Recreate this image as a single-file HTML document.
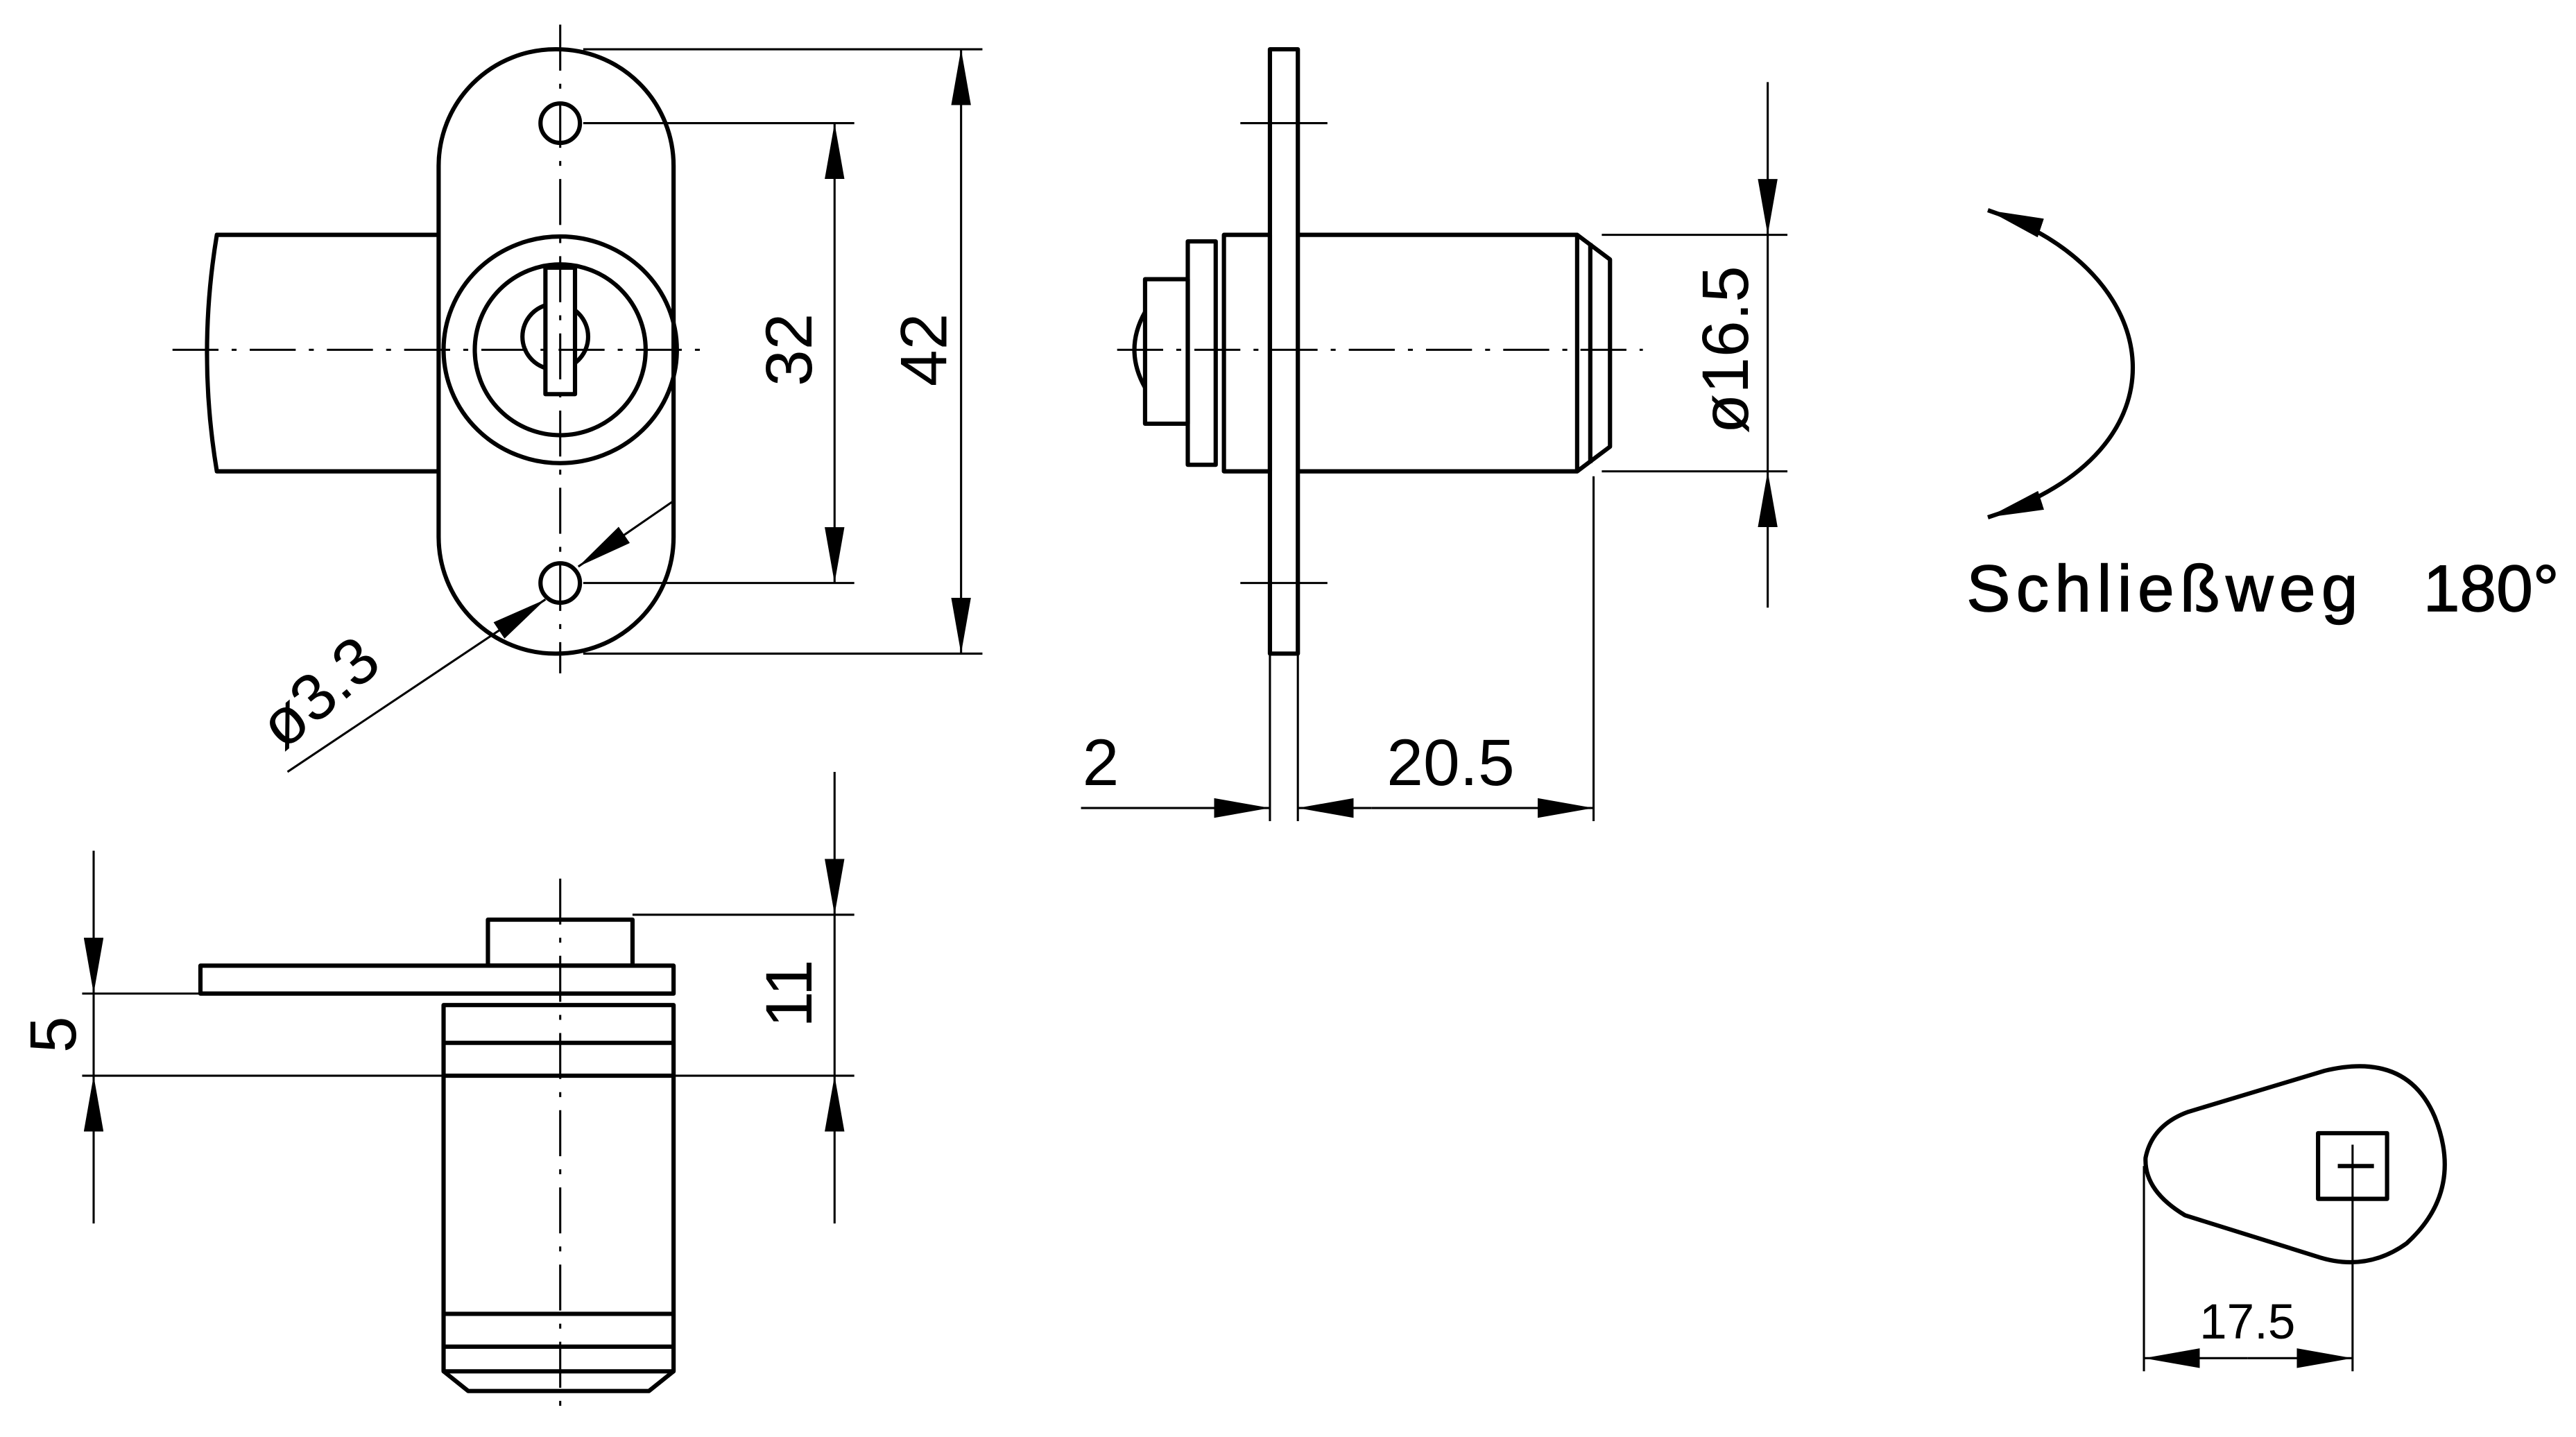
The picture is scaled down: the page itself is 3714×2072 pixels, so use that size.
<!DOCTYPE html>
<html><head><meta charset="utf-8"><style>
html,body{margin:0;padding:0;background:#fff;}
svg{display:block;}
text{font-family:"Liberation Sans","DejaVu Sans",sans-serif;fill:#000;}
</style></head><body>
<svg width="3714" height="2072" viewBox="0 0 1568 875" preserveAspectRatio="none" xmlns="http://www.w3.org/2000/svg">
<defs>
<marker id="a" viewBox="0 0 34 12" refX="34" refY="6" markerWidth="34" markerHeight="12" markerUnits="userSpaceOnUse" orient="auto-start-reverse"><path d="M0,0 L34,6 L0,12 Z" fill="#000"/></marker>
</defs>
<g fill="none" stroke="#000" stroke-width="2.6" stroke-linejoin="round">
<rect x="267" y="30" width="143" height="368" rx="71" ry="71"/>
<circle cx="341" cy="75" r="12"/>
<circle cx="341" cy="355" r="12"/>
<path d="M267,143 L132,143 Q120,215 132,287 L267,287"/>
<ellipse cx="341" cy="213" rx="71" ry="69"/>
<circle cx="341" cy="213" r="52"/>
<circle cx="338" cy="205" r="20"/>
<rect x="332" y="163" width="18" height="77" fill="#fff"/>
</g>
<g fill="none" stroke="#000" stroke-width="1.3">
<path d="M105,213 H430" stroke-dasharray="28,8,3,8"/>
<path d="M341,15 V410" stroke-dasharray="28,8,3,8"/>
<path d="M355,30 H598 M355,75 H520 M355,355 H520 M355,398 H598"/>
<path d="M508,75 V355" marker-start="url(#a)" marker-end="url(#a)" />
<path d="M585,30 V398" marker-start="url(#a)" marker-end="url(#a)" />
<path d="M175,470 L332,365" marker-end="url(#a)"/>
<path d="M410,305 L352,345" marker-end="url(#a)"/>
</g>
<text x="203" y="432" font-size="40" text-anchor="middle" transform="rotate(-40 203 432)">ø3.3</text>
<text x="480" y="213" font-size="40" text-anchor="middle" transform="rotate(-90 480 213)" dy="14">32</text>
<text x="562" y="213" font-size="40" text-anchor="middle" transform="rotate(-90 562 213)" dy="14">42</text>

<g fill="none" stroke="#000" stroke-width="2.6" stroke-linejoin="round">
<rect x="773" y="30" width="17" height="368"/>
<path d="M790,143 H960 L980,158 V272 L960,287 H790"/>
<path d="M960,143 V287 M968,148 V282"/>
<rect x="745" y="143" width="28" height="144"/>
<rect x="723" y="147" width="17" height="136"/>
<rect x="697" y="170" width="26" height="88"/>
<path d="M697,190 Q684,213 697,236"/>
</g>
<g fill="none" stroke="#000" stroke-width="1.3">
<path d="M680,213 H1000" stroke-dasharray="28,8,3,8"/>
<path d="M755,75 H808 M755,355 H808"/>
<path d="M773,398 V500 M790,398 V500 M970,290 V500"/>
<path d="M658,492 H773" marker-end="url(#a)"/>
<path d="M835,492 H790" marker-end="url(#a)"/>
<path d="M835,492 H970" marker-end="url(#a)"/>
<path d="M975,143 H1088 M975,287 H1088"/>
<path d="M1076,50 V143" marker-end="url(#a)"/>
<path d="M1076,370 V287" marker-end="url(#a)"/>
<path d="M1076,143 V287"/>
</g>
<g fill="none" stroke="#000" stroke-width="2.6">
<path d="M1210,128 C1320,165 1335,275 1210,315" marker-start="url(#a)" marker-end="url(#a)"/>
</g>
<text x="670" y="478" font-size="40" text-anchor="middle">2</text>
<text x="883" y="478" font-size="40" text-anchor="middle">20.5</text>
<text x="1050" y="213" font-size="40" text-anchor="middle" transform="rotate(-90 1050 213)" dy="14">ø16.5</text>
<text x="1197" y="372" font-size="40" letter-spacing="3.5" stroke="#000" stroke-width="0.6">Schließweg</text>
<text x="1475" y="372" font-size="40" stroke="#000" stroke-width="0.6">180°</text>

<g fill="none" stroke="#000" stroke-width="2.6" stroke-linejoin="round">
<rect x="122" y="588" width="288" height="17"/>
<rect x="297" y="560" width="88" height="28"/>
<rect x="270" y="612" width="140" height="223"/>
<path d="M270,635 H410 M270,655 H410 M270,800 H410 M270,820 H410"/>
<path d="M270,835 L285,847 H395 L410,835"/>
</g>
<g fill="none" stroke="#000" stroke-width="1.3">
<path d="M341,535 V862" stroke-dasharray="28,8,3,8"/>
<path d="M50,605 H122 M50,655 H270 M385,557 H520 M410,655 H520"/>
<path d="M57,518 V605" marker-end="url(#a)"/>
<path d="M57,745 V655" marker-end="url(#a)"/>
<path d="M57,605 V655"/>
<path d="M508,470 V557" marker-end="url(#a)"/>
<path d="M508,745 V655" marker-end="url(#a)"/>
<path d="M508,557 V655"/>
</g>
<text x="32" y="630" font-size="40" text-anchor="middle" transform="rotate(-90 32 630)" dy="14">5</text>
<text x="480" y="605" font-size="40" text-anchor="middle" transform="rotate(-90 480 605)" dy="14">11</text>

<g fill="none" stroke="#000" stroke-width="2.6" stroke-linejoin="round">
<path d="M1332,677 L1415,652 Q1465,640 1482,680 Q1500,725 1465,757 Q1440,775 1410,765 L1330,740 Q1305,725 1306,705 Q1310,685 1332,677 Z"/>
<rect x="1411" y="690" width="42" height="40"/>
<path d="M1423,710 H1445"/>
</g>
<g fill="none" stroke="#000" stroke-width="1.3">
<path d="M1432,697 V835 M1305,710 V835"/>
<path d="M1368,827 H1305" marker-end="url(#a)"/>
<path d="M1368,827 H1432" marker-end="url(#a)"/>
</g>
<text x="1368" y="815" font-size="30" text-anchor="middle">17.5</text>
</svg>
</body></html>
